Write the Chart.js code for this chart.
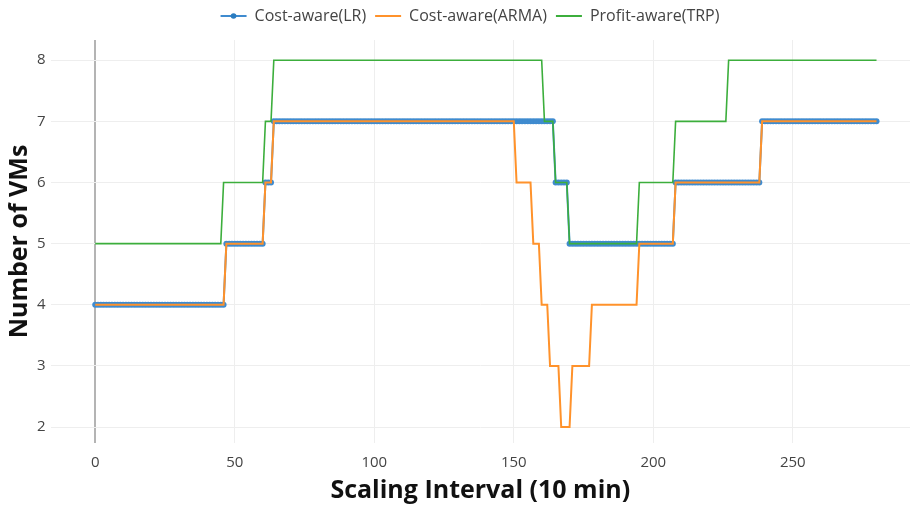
<!DOCTYPE html>
<html>
<head>
<meta charset="utf-8">
<script src="https://cdn.jsdelivr.net/npm/chart.js@4/dist/chart.umd.min.js"></script>
<style>
  html, body { margin: 0; padding: 0; background: #fff; }
  #wrap { width: 914px; height: 510px; position: relative; }
</style>
</head>
<body>
<div id="wrap"><canvas id="c"></canvas></div>
<script>
// ---- data ----
const xTickValues = [0, 50, 100, 150, 200, 250];
const yTickValues = [2, 3, 4, 5, 6, 7, 8];
const lastInterval = 280;

// run-length description of each step series: interval where a level starts, and the level
const lrStart   = [0, 47, 61, 64, 165, 170, 208, 239];
const lrLevel   = [4, 5, 6, 7, 6, 5, 6, 7];
const armaStart = [0, 47, 61, 64, 151, 157, 160, 163, 167, 171, 178, 195, 208, 239];
const armaLevel = [4, 5, 6, 7, 6, 5, 4, 3, 2, 3, 4, 5, 6, 7];
const trpStart  = [0, 46, 61, 64, 161, 165, 170, 195, 208, 227];
const trpLevel  = [5, 6, 7, 8, 7, 6, 5, 6, 7, 8];

const seriesNames = ['Cost-aware(LR)', 'Cost-aware(ARMA)', 'Profit-aware(TRP)'];

function decodeRuns(starts, levels, last) {
  const pts = [];
  let k = 0;
  for (let x = 0; x <= last; x++) {
    while (k + 1 < starts.length && x >= starts[k + 1]) k++;
    pts.push({ x: x, y: levels[k] });
  }
  return pts;
}

const lrData = decodeRuns(lrStart, lrLevel, lastInterval);
const armaData = decodeRuns(armaStart, armaLevel, lastInterval);
const trpData = decodeRuns(trpStart, trpLevel, lastInterval);

const BLUE = '#3f8bcf';
const ORANGE = '#ff922b';
const GREEN = '#3cae3c';

const LEGEND_DX = 14, LEGEND_DY = -6;
const legendTweak = {
  id: 'legendTweak',
  afterUpdate(chart) {
    const lg = chart.legend;
    if (!lg) return;
    lg.left += LEGEND_DX; lg.right += LEGEND_DX;
    lg.top += LEGEND_DY; lg.bottom += LEGEND_DY;
  },
  afterDraw(chart) {
    const lg = chart.legend;
    if (!lg || !lg.legendItems) return;
    lg.legendItems.forEach((it, i) => {
      if (it.text === seriesNames[0]) {
        const hb = lg.legendHitBoxes[i];
        const bw = lg.options.labels.boxWidth;
        const ctx = chart.ctx;
        ctx.save();
        ctx.fillStyle = '#2a7cc0';
        ctx.beginPath();
        ctx.arc(hb.left + LEGEND_DX + bw / 2, hb.top + LEGEND_DY + hb.height / 2, 2.8, 0, Math.PI * 2);
        ctx.fill();
        ctx.restore();
      }
    });
  }
};

new Chart(document.getElementById('c'), {
  type: 'line',
  data: {
    datasets: [
      {
        label: seriesNames[0], data: lrData, order: 3,
        borderColor: BLUE, backgroundColor: BLUE, borderWidth: 2,
        pointRadius: 3, pointBorderWidth: 0, pointBackgroundColor: BLUE
      },
      {
        label: seriesNames[1], data: armaData, order: 2,
        borderColor: ORANGE, backgroundColor: ORANGE, borderWidth: 2, pointRadius: 0
      },
      {
        label: seriesNames[2], data: trpData, order: 1,
        borderColor: GREEN, backgroundColor: GREEN, borderWidth: 1.6, pointRadius: 0
      }
    ]
  },
  options: {
    responsive: true,
    maintainAspectRatio: false,
    animation: false,
    layout: { padding: { left: 0, right: 2, top: 5, bottom: 0 } },
    plugins: {
      tooltip: { enabled: false },
      legend: {
        position: 'top',
        reverse: true,
        labels: {
          boxWidth: 26, boxHeight: 2, padding: 9,
          color: '#444',
          font: { family: 'Open Sans', size: 16 },
          generateLabels(chart) {
            const items = Chart.defaults.plugins.legend.labels.generateLabels(chart);
            items.forEach(it => { it.lineWidth = 0; it.fillStyle = it.strokeStyle; });
            return items;
          }
        }
      }
    },
    scales: {
      x: {
        type: 'linear',
        min: -16, max: 292,
        afterBuildTicks(s) { s.ticks = xTickValues.map(v => ({ value: v })); },
        afterFit(s) { s.height = 67; },
        grid: {
          color: ctx => (ctx.tick && ctx.tick.value === 0) ? '#b4b4b4' : '#eeeeee',
          lineWidth: ctx => (ctx.tick && ctx.tick.value === 0) ? 2 : 1,
          drawTicks: false
        },
        border: { display: false },
        ticks: { color: '#444', font: { family: 'Open Sans', size: 15 }, padding: 11, maxRotation: 0 },
        title: {
          display: true, text: 'Scaling Interval (10 min)', color: '#111',
          font: { family: 'Open Sans', size: 25, weight: 'bold' }, padding: { top: 0, bottom: 4 }
        }
      },
      y: {
        type: 'linear',
        min: 1.74, max: 8.33,
        afterBuildTicks(s) { s.ticks = yTickValues.map(v => ({ value: v })); },
        grid: { color: '#eeeeee', drawTicks: false },
        border: { display: false },
        ticks: { color: '#444', font: { family: 'Open Sans', size: 15 }, padding: 5 },
        title: {
          display: true, text: 'Number of VMs', color: '#111',
          font: { family: 'Open Sans', size: 25, weight: 'bold' }, padding: { top: 5, bottom: -3 }
        }
      }
    }
  },
  plugins: [legendTweak]
});
</script>
</body>
</html>
